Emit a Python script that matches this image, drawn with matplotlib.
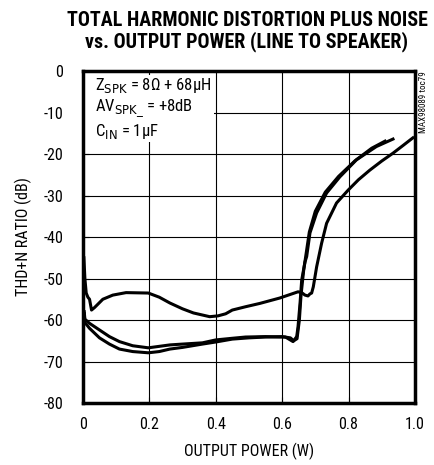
import os
import matplotlib
matplotlib.use('Agg')
import matplotlib.pyplot as plt
import matplotlib.patches as patches
from matplotlib import font_manager

# curve A: upper curve with the hump near 0.15 W
a_x = [0.003, 0.006, 0.010, 0.015, 0.020, 0.026, 0.035, 0.06, 0.09, 0.13, 0.197, 0.23,
       0.262, 0.30, 0.333, 0.382, 0.407, 0.43, 0.45, 0.49, 0.533, 0.593, 0.648, 0.659,
       0.669, 0.678, 0.684, 0.689, 0.694, 0.704, 0.719, 0.734, 0.764, 0.799, 0.83,
       0.864, 0.90, 0.934, 0.965, 0.994]
a_y = [-45, -50, -53.5, -54.5, -55, -57.6, -57, -55, -54, -53.4, -53.5, -54.5,
       -55.9, -57.3, -58.3, -59.2, -59, -58.5, -57.6, -56.8, -56, -54.7, -53.2, -53.4,
       -54, -54.2, -53.7, -53.5, -52, -47.2, -41.5, -36.7, -31.8, -28.7, -26.2,
       -23.9, -21.7, -19.8, -17.9, -16.1]

# curve B: lower pair, upper trace
b_x = [0.004, 0.006, 0.02, 0.05, 0.08, 0.11, 0.15, 0.197, 0.262, 0.30, 0.36, 0.40,
       0.45, 0.49, 0.55, 0.593, 0.61, 0.633, 0.644, 0.648, 0.654, 0.659, 0.669, 0.674,
       0.684, 0.704, 0.734, 0.774, 0.824, 0.884, 0.934]
b_y = [-58, -59.8, -60.8, -62.4, -64, -65.2, -66.2, -66.7, -66, -65.8, -65.5, -64.8,
       -64.4, -64.1, -64, -64.1, -64.1, -65.2, -64, -61.6, -56, -50.4, -46, -44.7,
       -39, -34.2, -29.4, -25.5, -21.4, -18.2, -16.4]

# curve C: lower pair, lower trace
c_x = [0.004, 0.006, 0.02, 0.05, 0.08, 0.11, 0.15, 0.197, 0.23, 0.262, 0.30, 0.36,
       0.40, 0.45, 0.50, 0.55, 0.60, 0.625, 0.635, 0.645, 0.652, 0.657, 0.665, 0.672,
       0.682, 0.70, 0.73, 0.77, 0.82, 0.87, 0.91]
c_y = [-58.5, -60.6, -62, -64.3, -65.8, -67, -67.6, -67.9, -67.6, -67, -66.6, -65.8,
       -65.3, -64.6, -64.3, -64.1, -64, -64.3, -65, -64.5, -60, -54, -48, -44.2,
       -38.8, -33.8, -29.2, -25.4, -21.6, -18.6, -16.9]

x_ticks = [0, 0.2, 0.4, 0.6, 0.8, 1.0]
x_labels = ['0', '0.2', '0.4', '0.6', '0.8', '1.0']
y_ticks = [0, -10, -20, -30, -40, -50, -60, -70, -80]


def find_font(patterns):
    files = {os.path.basename(f.fname).lower(): f for f in font_manager.fontManager.ttflist}
    for p in patterns:
        for name, f in files.items():
            if name.startswith(p.lower()):
                return f
    return None


reg = find_font(['RobotoCondensed-Regular', 'LiberationSansNarrow-Regular',
                 'NotoSans-CondensedRegular', 'NotoSans-Condensed.', 'OpenSans_Condensed-Regular',
                 'DejaVuSansCondensed.', 'LiberationSans-Regular'])
bold = find_font(['RobotoCondensed-Bold', 'LiberationSansNarrow-Bold',
                  'NotoSans-CondensedBold', 'OpenSans_Condensed-Bold',
                  'DejaVuSansCondensed-Bold', 'LiberationSans-Bold'])

if reg is not None:
    fp = font_manager.FontProperties(fname=reg.fname)
    plt.rcParams['mathtext.fontset'] = 'custom'
    plt.rcParams['mathtext.rm'] = reg.name
else:
    fp = font_manager.FontProperties(family='DejaVu Sans')
fpb = font_manager.FontProperties(fname=bold.fname) if bold is not None else \
    font_manager.FontProperties(family='DejaVu Sans', weight='bold')
plt.rcParams['axes.unicode_minus'] = False

fig = plt.figure(figsize=(4.34, 4.65), dpi=100)
ax = fig.add_axes([0.191, 0.1333, 0.765, 0.714])

ax.plot(a_x, a_y, color='black', lw=2.2, zorder=3)
ax.plot(b_x, b_y, color='black', lw=2.2, zorder=3)
ax.plot(c_x, c_y, color='black', lw=2.2, zorder=3)

ax.set_xlim(0, 1.0)
ax.set_ylim(-80, 0)
ax.set_xticks(x_ticks)
ax.set_xticklabels(x_labels)
ax.set_yticks(y_ticks)
ax.set_axisbelow(True)
ax.grid(True, color='black', lw=0.8)
ax.tick_params(direction='in', length=4, width=0.8, pad=14, colors='black')
ax.tick_params(axis='x', pad=10)
for lab in ax.get_xticklabels() + ax.get_yticklabels():
    lab.set_fontproperties(fp)
    lab.set_fontsize(11.5)
for s in ax.spines.values():
    s.set_linewidth(2.5)

# white box behind the conditions text
ax.add_patch(patches.Rectangle((0.006, -17), 0.39, 16, facecolor='white',
                               edgecolor='none', zorder=1))
ax.text(0.035, -1.2, 'Z$_{\\mathrm{SPK}}$ = 8Ω + 68µH\nAV$_{\\mathrm{SPK\\_}}$ = +8dB\nC$_{\\mathrm{IN}}$ = 1µF',
        fontproperties=fp, fontsize=12, va='top', ha='left', linespacing=1.2, zorder=2)

ax.set_xlabel('OUTPUT POWER (W)', fontproperties=fp, fontsize=11.5, labelpad=8)
ax.set_ylabel('THD+N RATIO (dB)', fontproperties=fp, fontsize=11.5, labelpad=8)

fig.text(0.569, 0.976, 'TOTAL HARMONIC DISTORTION PLUS NOISE\nvs. OUTPUT POWER (LINE TO SPEAKER)',
         ha='center', va='top', fontproperties=fpb, fontsize=14.4, linespacing=1.1)
fig.text(0.975, 0.847, 'MAX98089 toc79', rotation=90, ha='center', va='top',
         fontproperties=fp, fontsize=6.5)

fig.savefig('out.png', dpi=100)
